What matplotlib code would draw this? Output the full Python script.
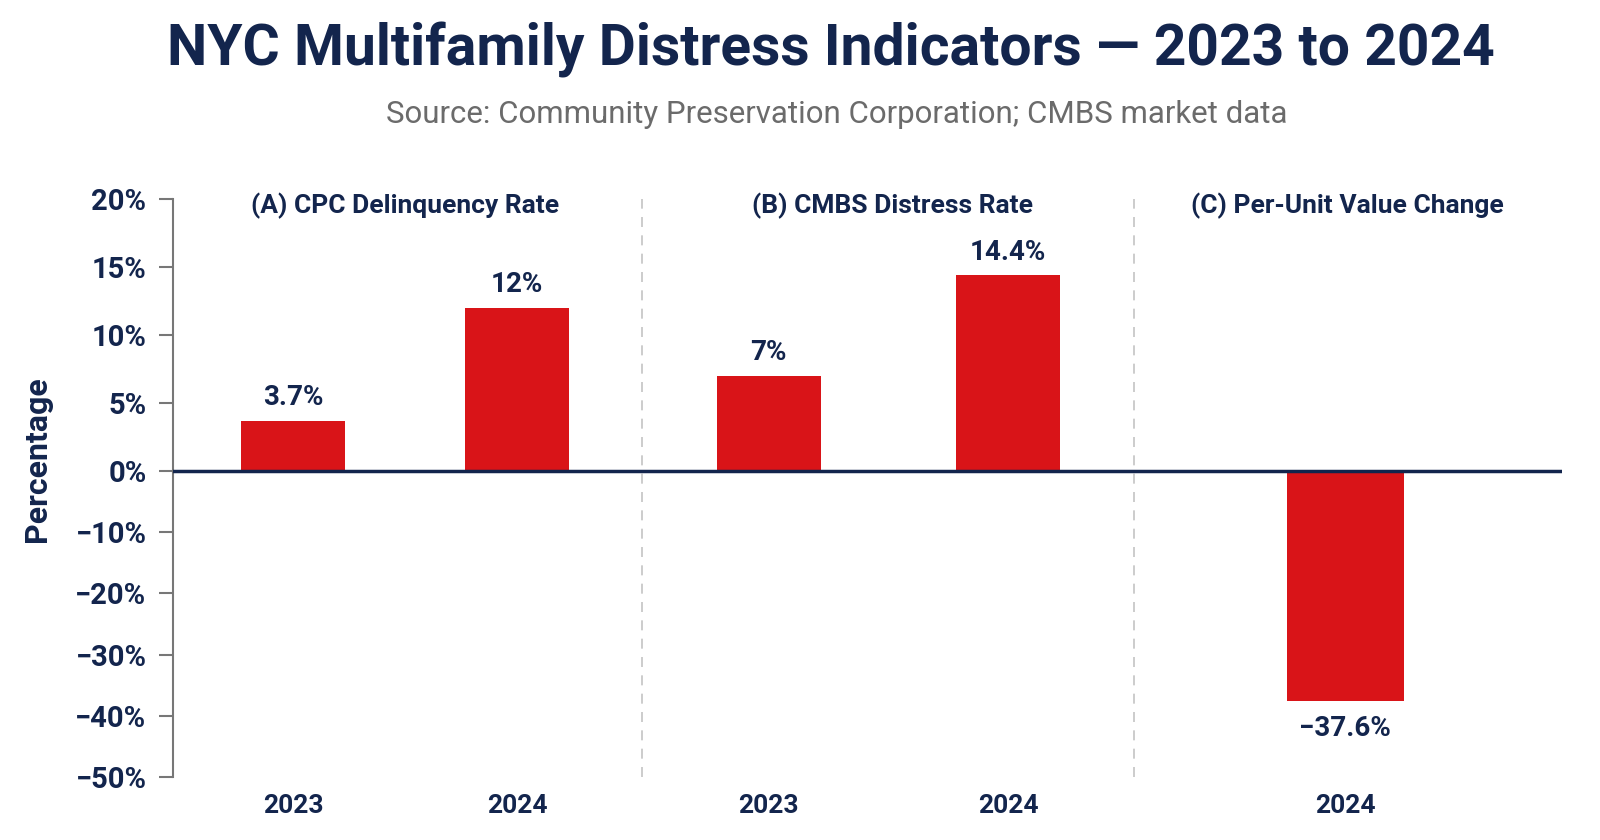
import numpy as np
import matplotlib
matplotlib.use("Agg")
import matplotlib.pyplot as plt

plt.rcParams['font.family'] = ['Roboto', 'DejaVu Sans']

# Data
panels = ['(A) CPC Delinquency Rate', '(B) CMBS Distress Rate', '(C) Per-Unit Value Change']
years = ['2023', '2024', '2023', '2024', '2024']
values = [3.7, 12.0, 7.0, 14.4, -37.6]
labels = ['3.7%', '12%', '7%', '14.4%', '\u221237.6%']
y_ticks = [20, 15, 10, 5, 0, -10, -20, -30, -40, -50]

navy = '#13254d'
red = '#d91418'

# bar slots and panel layout
xpos = [0.013, 0.987, 2.082, 3.123, 4.589]
widths = [0.45, 0.45, 0.45, 0.45, 0.51]
panel_centers = [0.5, 2.62, 4.6]
separators = [1.53, 3.67]

# negative side of the axis is compressed
neg_ratio = 0.45
def fwd(y):
    y = np.asarray(y, dtype=float)
    return np.where(y >= 0, y, y * neg_ratio)
def inv(y):
    y = np.asarray(y, dtype=float)
    return np.where(y >= 0, y, y / neg_ratio)

fig = plt.figure(figsize=(16, 8.4), dpi=100)
ax = fig.add_axes([0.108, 0.075, 0.868, 0.688])
ax.set_yscale('function', functions=(fwd, inv))
ax.set_ylim(-50, 20)
ax.set_xlim(-0.51, 5.53)

ax.bar(xpos, values, width=widths, color=red, zorder=2)
ax.axhline(0, color=navy, lw=2.5, zorder=3)
for s in separators:
    ax.axvline(s, color='#c4c4c4', lw=1.2, ls=(0, (6, 5)), zorder=1)

for x, v, lab in zip(xpos, values, labels):
    if v >= 0:
        ax.annotate(lab, (x, v), xytext=(0, 7), textcoords='offset points',
                    ha='center', va='bottom', fontsize=20, fontweight='bold', color=navy)
    else:
        ax.annotate(lab, (x, v), xytext=(0, -10), textcoords='offset points',
                    ha='center', va='top', fontsize=20, fontweight='bold', color=navy)

for cx, name in zip(panel_centers, panels):
    ax.text(cx, 19.5, name, ha='center', va='center', fontsize=19,
            fontweight='bold', color=navy)

ax.set_yticks(y_ticks)
ax.set_yticklabels([f'{t}%'.replace('-', '\u2212') for t in y_ticks],
                   fontsize=21, fontweight='bold', color=navy)
ax.tick_params(axis='y', length=10, width=1.5, color='#777777', pad=9)
ax.set_xticks(xpos)
ax.set_xticklabels(years, fontsize=19, fontweight='bold', color=navy)
ax.tick_params(axis='x', length=0, pad=12)

for side in ['top', 'right', 'bottom']:
    ax.spines[side].set_visible(False)
ax.spines['left'].set_color('#777777')
ax.spines['left'].set_linewidth(1.5)

fig.text(0.023, 0.454, 'Percentage', rotation=90, ha='center', va='center',
         fontsize=23, fontweight='bold', color=navy)
fig.text(0.519, 0.941, 'NYC Multifamily Distress Indicators \u2014 2023 to 2024',
         ha='center', va='center', fontsize=41, fontweight='bold', color=navy)
fig.text(0.523, 0.864, 'Source: Community Preservation Corporation; CMBS market data',
         ha='center', va='center', fontsize=22.5, color='#6b6b6b')

fig.savefig('out.png', dpi=100, facecolor='white')
